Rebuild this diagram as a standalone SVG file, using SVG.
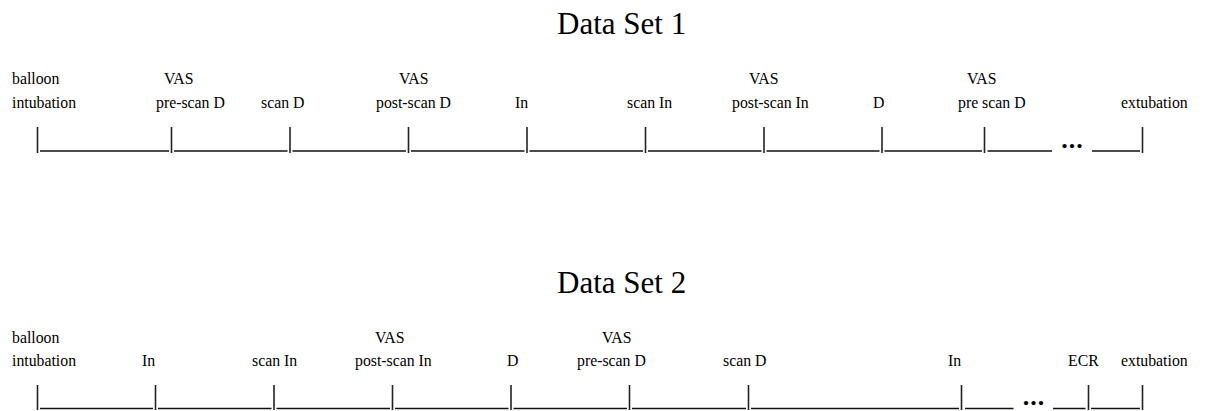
<svg xmlns="http://www.w3.org/2000/svg" width="1206" height="411" viewBox="0 0 1206 411">
<style>
.title{font-family:"Liberation Serif","Times New Roman",serif;font-size:31px;fill:#000}
.lbl{font-family:"Liberation Serif","Times New Roman",serif;font-size:15.8px;fill:#000}
.dots{font-family:"Liberation Serif","Times New Roman",serif;font-size:26px;font-weight:bold;fill:#000;letter-spacing:1px}
.tick{stroke:#222;stroke-width:1.6}
.bar{stroke:#111;stroke-width:1.4}
</style>
<rect width="1206" height="411" fill="#fff"/>
<g id="dataset1">
<text class="title" x="557" y="34">Data Set 1</text>
<g id="ds1-labels">
<text class="lbl" x="12" y="84">balloon</text>
<text class="lbl" x="12" y="107.5">intubation</text>
<text class="lbl" x="164" y="84">VAS</text>
<text class="lbl" x="156" y="107.5">pre-scan D</text>
<text class="lbl" x="261" y="107.5">scan D</text>
<text class="lbl" x="399" y="84">VAS</text>
<text class="lbl" x="376" y="107.5">post-scan D</text>
<text class="lbl" x="515" y="107.5">In</text>
<text class="lbl" x="627" y="107.5">scan In</text>
<text class="lbl" x="749" y="84">VAS</text>
<text class="lbl" x="732" y="107.5">post-scan In</text>
<text class="lbl" x="873" y="107.5">D</text>
<text class="lbl" x="967" y="84">VAS</text>
<text class="lbl" x="958" y="107.5">pre scan D</text>
<text class="lbl" x="1121" y="107.5">extubation</text>
</g>
<g id="ds1-timeline">
<line class="tick" x1="37.5" y1="127" x2="37.5" y2="153"/>
<line class="tick" x1="171.5" y1="127" x2="171.5" y2="153"/>
<line class="tick" x1="290" y1="127" x2="290" y2="153"/>
<line class="tick" x1="408.5" y1="127" x2="408.5" y2="153"/>
<line class="tick" x1="527" y1="127" x2="527" y2="153"/>
<line class="tick" x1="645.5" y1="127" x2="645.5" y2="153"/>
<line class="tick" x1="764" y1="127" x2="764" y2="153"/>
<line class="tick" x1="882" y1="127" x2="882" y2="153"/>
<line class="tick" x1="984.5" y1="127" x2="984.5" y2="153"/>
<line class="tick" x1="1142.5" y1="127" x2="1142.5" y2="153"/>
<line class="bar" x1="40" y1="151" x2="169" y2="151"/>
<line class="bar" x1="174" y1="151" x2="287.5" y2="151"/>
<line class="bar" x1="292.5" y1="151" x2="406" y2="151"/>
<line class="bar" x1="411" y1="151" x2="524.5" y2="151"/>
<line class="bar" x1="529.5" y1="151" x2="643" y2="151"/>
<line class="bar" x1="648" y1="151" x2="761.5" y2="151"/>
<line class="bar" x1="766.5" y1="151" x2="879.5" y2="151"/>
<line class="bar" x1="884.5" y1="151" x2="982" y2="151"/>
<line class="bar" x1="987.5" y1="151" x2="1052" y2="151"/>
<line class="bar" x1="1092" y1="151" x2="1140" y2="151"/>
<text class="dots" x="1072.5" y="148" text-anchor="middle">...</text>
</g>
</g>
<g id="dataset2">
<text class="title" x="557" y="292.5">Data Set 2</text>
<g id="ds2-labels">
<text class="lbl" x="12" y="342.5">balloon</text>
<text class="lbl" x="12" y="366">intubation</text>
<text class="lbl" x="142" y="366">In</text>
<text class="lbl" x="252" y="366">scan In</text>
<text class="lbl" x="375" y="342.5">VAS</text>
<text class="lbl" x="355" y="366">post-scan In</text>
<text class="lbl" x="507" y="366">D</text>
<text class="lbl" x="602" y="342.5">VAS</text>
<text class="lbl" x="577" y="366">pre-scan D</text>
<text class="lbl" x="723" y="366">scan D</text>
<text class="lbl" x="948" y="366">In</text>
<text class="lbl" x="1068" y="366">ECR</text>
<text class="lbl" x="1121" y="366">extubation</text>
</g>
<g id="ds2-timeline">
<line class="tick" x1="37.5" y1="385" x2="37.5" y2="410"/>
<line class="tick" x1="155.5" y1="385" x2="155.5" y2="410"/>
<line class="tick" x1="274" y1="385" x2="274" y2="410"/>
<line class="tick" x1="392.5" y1="385" x2="392.5" y2="410"/>
<line class="tick" x1="511" y1="385" x2="511" y2="410"/>
<line class="tick" x1="629.5" y1="385" x2="629.5" y2="410"/>
<line class="tick" x1="748.5" y1="385" x2="748.5" y2="410"/>
<line class="tick" x1="961.5" y1="385" x2="961.5" y2="410"/>
<line class="tick" x1="1088.5" y1="385" x2="1088.5" y2="410"/>
<line class="tick" x1="1142.5" y1="385" x2="1142.5" y2="410"/>
<line class="bar" x1="40" y1="408.5" x2="153" y2="408.5"/>
<line class="bar" x1="158" y1="408.5" x2="271.5" y2="408.5"/>
<line class="bar" x1="276.5" y1="408.5" x2="390" y2="408.5"/>
<line class="bar" x1="395" y1="408.5" x2="508.5" y2="408.5"/>
<line class="bar" x1="513.5" y1="408.5" x2="627" y2="408.5"/>
<line class="bar" x1="632" y1="408.5" x2="746" y2="408.5"/>
<line class="bar" x1="751" y1="408.5" x2="959" y2="408.5"/>
<line class="bar" x1="965" y1="408.5" x2="1013.5" y2="408.5"/>
<line class="bar" x1="1053" y1="408.5" x2="1085.5" y2="408.5"/>
<line class="bar" x1="1091" y1="408.5" x2="1140" y2="408.5"/>
<text class="dots" x="1034" y="405" text-anchor="middle">...</text>
</g>
</g>
</svg>
